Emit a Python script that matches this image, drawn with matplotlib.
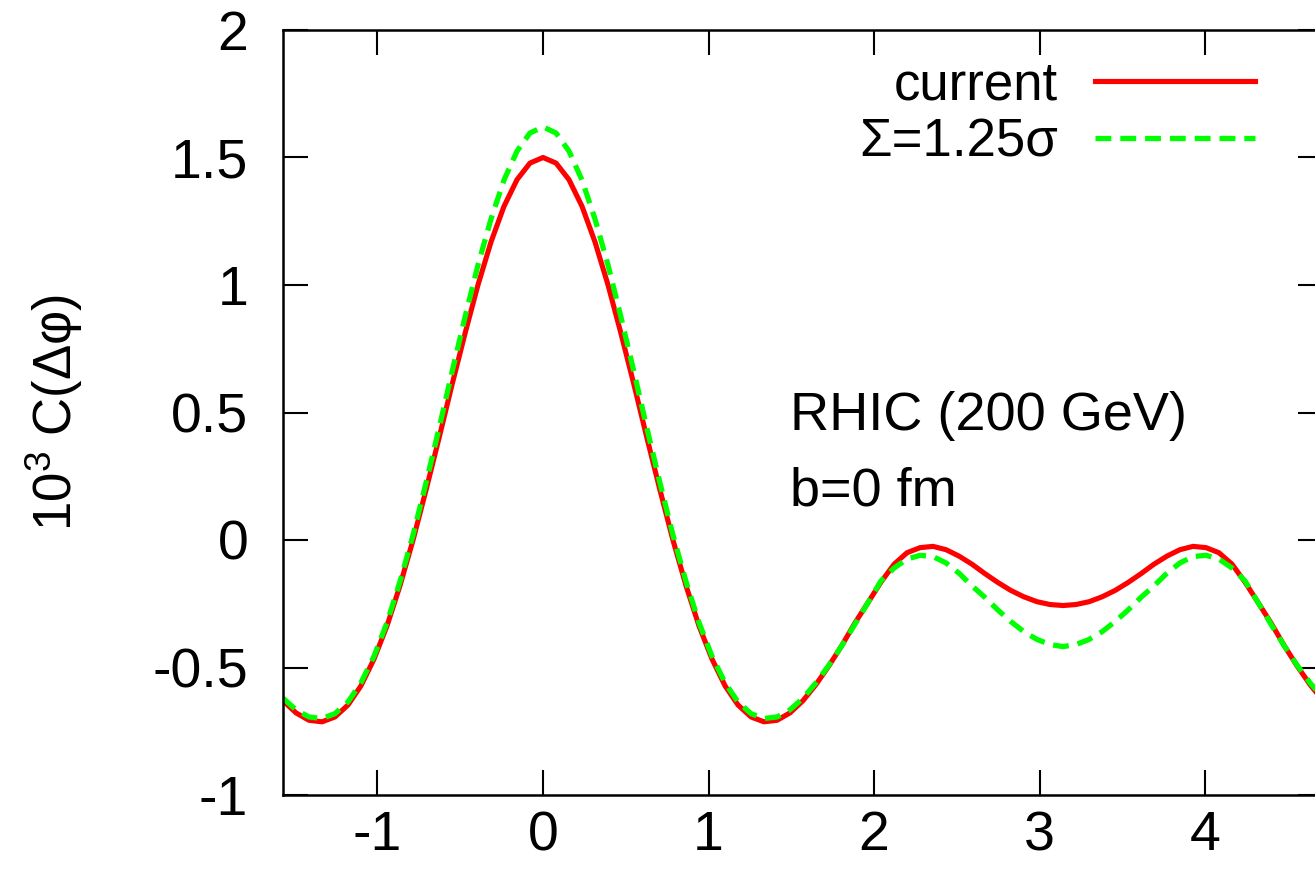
import matplotlib
matplotlib.use("Agg")
import matplotlib.pyplot as plt
import numpy as np

# delta phi grid (rad) and correlation values (x 10^3)
dphi = [-1.571, -1.492, -1.414, -1.335, -1.257, -1.178, -1.100, -1.021, -0.942, -0.864,
        -0.785, -0.707, -0.628, -0.550, -0.471, -0.393, -0.314, -0.236, -0.157, -0.079,
        0.000, 0.079, 0.157, 0.236, 0.314, 0.393, 0.471, 0.550, 0.628, 0.707,
        0.785, 0.864, 0.942, 1.021, 1.100, 1.178, 1.257, 1.335, 1.414, 1.492,
        1.571, 1.649, 1.728, 1.806, 1.885, 1.964, 2.042, 2.121, 2.199, 2.278,
        2.356, 2.435, 2.513, 2.592, 2.670, 2.749, 2.827, 2.906, 2.985, 3.063,
        3.142, 3.220, 3.299, 3.377, 3.456, 3.534, 3.613, 3.691, 3.770, 3.848,
        3.927, 4.006, 4.084, 4.163, 4.241, 4.320, 4.398, 4.477, 4.555, 4.634, 4.712]

c_current = [-0.630, -0.678, -0.707, -0.713, -0.694, -0.647, -0.572, -0.467, -0.336, -0.179,
             0.000, 0.195, 0.400, 0.608, 0.810, 1.000, 1.169, 1.308, 1.413, 1.478,
             1.500, 1.478, 1.413, 1.308, 1.169, 1.000, 0.810, 0.608, 0.400, 0.195,
             0.000, -0.179, -0.336, -0.467, -0.572, -0.647, -0.694, -0.713, -0.707, -0.678,
             -0.630, -0.567, -0.493, -0.413, -0.325, -0.245, -0.165, -0.095, -0.050, -0.030,
             -0.025, -0.038, -0.063, -0.095, -0.132, -0.167, -0.198, -0.223, -0.242, -0.253,
             -0.257, -0.253, -0.242, -0.223, -0.198, -0.167, -0.132, -0.095, -0.063, -0.038,
             -0.025, -0.030, -0.050, -0.095, -0.165, -0.245, -0.325, -0.413, -0.493, -0.567, -0.630]

c_sigma125 = [-0.620, -0.666, -0.694, -0.700, -0.681, -0.635, -0.560, -0.456, -0.323, -0.163,
              0.020, 0.223, 0.438, 0.658, 0.874, 1.078, 1.259, 1.411, 1.525, 1.596,
              1.620, 1.596, 1.525, 1.411, 1.259, 1.078, 0.874, 0.658, 0.438, 0.223,
              0.020, -0.163, -0.323, -0.456, -0.560, -0.635, -0.681, -0.700, -0.694, -0.666,
              -0.620, -0.560, -0.490, -0.414, -0.330, -0.245, -0.160, -0.110, -0.075, -0.060,
              -0.065, -0.090, -0.130, -0.180, -0.225, -0.275, -0.320, -0.360, -0.390, -0.410,
              -0.418, -0.410, -0.390, -0.360, -0.320, -0.275, -0.225, -0.180, -0.130, -0.090,
              -0.065, -0.060, -0.075, -0.110, -0.160, -0.245, -0.330, -0.414, -0.490, -0.560, -0.620]

xticks = [-1, 0, 1, 2, 3, 4]
yticks = [-1, -0.5, 0, 0.5, 1, 1.5, 2]
ytick_labels = ['-1', '-0.5', '0', '0.5', '1', '1.5', '2']

plt.rcParams['font.family'] = ['Liberation Sans', 'DejaVu Sans']
plt.rcParams['mathtext.fontset'] = 'custom'
plt.rcParams['mathtext.rm'] = 'Liberation Sans'
plt.rcParams['mathtext.it'] = 'Liberation Sans'
plt.rcParams['mathtext.default'] = 'regular'
plt.rcParams['axes.unicode_minus'] = False

fig = plt.figure(figsize=(13.15, 8.72), dpi=100)
ax = fig.add_axes([283 / 1315, 77 / 872, 1040 / 1315, 765 / 872])

ax.plot(dphi, c_current, color='#ff0000', lw=3.7, label='current')
ax.plot(dphi, c_sigma125, color='#00ff00', lw=3.8, dashes=(3.0, 1.7), label='Σ=1.25σ')

ax.set_xlim(-np.pi / 2, 3 * np.pi / 2)
ax.set_ylim(-1, 2)
ax.set_xticks(xticks)
ax.set_xticklabels([str(t) for t in xticks])
ax.set_yticks(yticks)
ax.set_yticklabels(ytick_labels)
ax.tick_params(direction='in', length=18, width=1.5, top=True, right=True, labelsize=40)
ax.tick_params(axis='y', pad=25)
ax.tick_params(axis='x', pad=11)
for sp in ax.spines.values():
    sp.set_linewidth(1.8)

ax.set_ylabel(r'$10^3$ C(Δφ)', fontsize=38)
ax.yaxis.set_label_coords(-0.19, 0.5)

ax.text(1.49, 0.431, 'RHIC (200 GeV)', fontsize=39, va='baseline')
ax.text(1.49, 0.137, 'b=0 fm', fontsize=39, va='baseline')

ax.legend(loc='upper right', bbox_to_anchor=(1255 / 1315, 1 - 60 / 872),
          bbox_transform=fig.transFigure, frameon=False, markerfirst=False,
          fontsize=38, handlelength=3.03, handletextpad=0.7, labelspacing=0.15,
          borderpad=0, borderaxespad=0)

fig.savefig('out.png', dpi=100)
